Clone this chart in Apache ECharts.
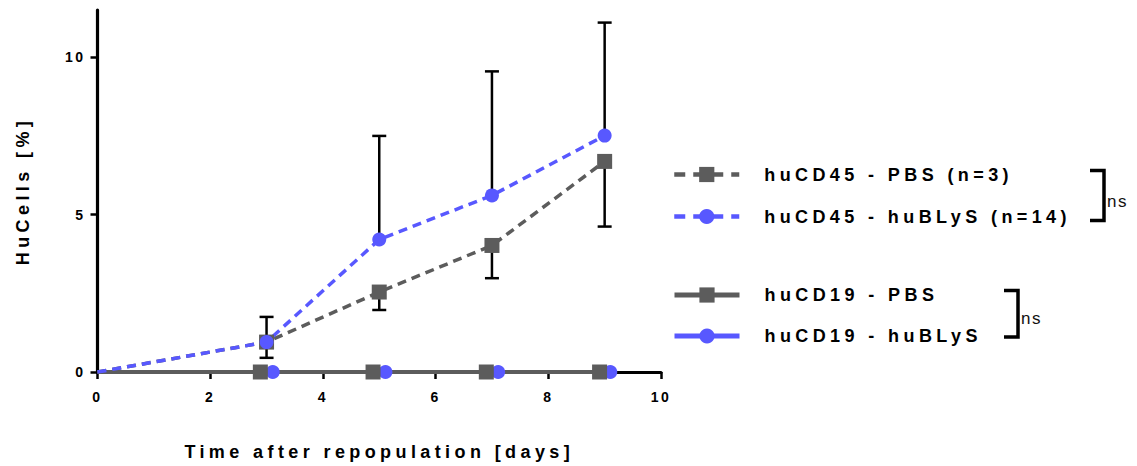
<!DOCTYPE html>
<html>
<head>
<meta charset="utf-8">
<script src="https://cdn.jsdelivr.net/npm/echarts@6/dist/echarts.min.js"></script>
<style>
  html, body { margin: 0; padding: 0; background: #fff; }
  #chart { width: 1137px; height: 466px; }
  #chart text[style*="18px"] { letter-spacing: 4.4px; }
  #chart text[style*="14px"] { letter-spacing: 2.5px; }
  #chart text[style*="17px"] { letter-spacing: 1.5px; }
</style>
</head>
<body>
<div id="chart"></div>
<script>
// ---- data ----
const days = [0, 3, 5, 7, 9];
const cd45Pbs = [0, 0.95, 2.54, 4.02, 6.69];
const cd45Blys = [0, 0.95, 4.21, 5.61, 7.51];
const errDays = [3, 5, 7, 9];
const cd45BlysErrTop = [1.75, 7.5, 9.55, 11.1];
const cd45PbsErrBottom = [0.45, 1.97, 2.98, 4.62];
const cd19PbsDays = [0, 2.89, 4.89, 6.9, 8.91];
const cd19Pbs = [0, 0, 0, 0, 0];
const cd19BlysDays = [0, 3.11, 5.11, 7.11, 9.1];
const cd19Blys = [0, 0, 0, 0, 0];
const xTicks = [0, 2, 4, 6, 8, 10];
const yTicks = [0, 5, 10];
const names = ['huCD45 - PBS (n=3)', 'huCD45 - huBLyS (n=14)', 'huCD19 - PBS', 'huCD19 - huBLyS'];

const GRAY = '#5c5c5c';
const BLUE = '#5858ff';
const FONT = '"Liberation Sans", Arial, Helvetica, sans-serif';

function pts(xs, ys) {
  return xs.map((x, i) => i === 0 ? { value: [x, ys[i]], symbol: 'none' } : [x, ys[i]]);
}

function errSeries(name, xs, base, ends) {
  return {
    type: 'custom',
    name: name,
    silent: true,
    data: xs.map((x, i) => [x, base[i], ends[i]]),
    encode: { x: 0, y: [1, 2] },
    renderItem: function (params, api) {
      const x = api.value(0), a = api.value(1), b = api.value(2);
      const p1 = api.coord([x, a]);
      const p2 = api.coord([x, b]);
      const st = { stroke: '#000', lineWidth: 2.5 };
      return {
        type: 'group',
        children: [
          { type: 'line', shape: { x1: p1[0], y1: p1[1], x2: p2[0], y2: p2[1] }, style: st },
          { type: 'line', shape: { x1: p2[0] - 7, y1: p2[1], x2: p2[0] + 7, y2: p2[1] }, style: st }
        ]
      };
    }
  };
}

const chart = echarts.init(document.getElementById('chart'), null, { renderer: 'svg' });

const legendText = { fontFamily: FONT, fontSize: 18, fontWeight: 'bold', color: '#000', padding: [0, 0, 0, 20] };

const option = {
  animation: false,
  backgroundColor: '#fff',
  grid: { left: 97.5, right: 476, top: 10, bottom: 94, containLabel: false },
  xAxis: {
    type: 'value', min: 0, max: 10, interval: 2,
    name: 'Time after repopulation [days]',
    nameLocation: 'middle', nameGap: 71,
    nameTextStyle: { fontFamily: FONT, fontSize: 18, fontWeight: 'bold', color: '#000' },
    axisLine: { show: true, onZero: false, lineStyle: { color: '#000', width: 3 } },
    axisTick: { show: true, length: 7, lineStyle: { color: '#000', width: 2.5 }, customValues: xTicks },
    axisLabel: { fontFamily: FONT, fontSize: 14, fontWeight: 'bold', color: '#000', margin: 18, customValues: xTicks },
    splitLine: { show: false }
  },
  yAxis: {
    type: 'value', min: 0, max: 11.5, interval: 5,
    name: 'HuCells [%]',
    nameLocation: 'middle', nameGap: 66, nameRotate: 90,
    nameTextStyle: { fontFamily: FONT, fontSize: 18, fontWeight: 'bold', color: '#000' },
    axisLine: { show: true, onZero: false, lineStyle: { color: '#000', width: 3.2 } },
    axisTick: { show: true, length: 7, lineStyle: { color: '#000', width: 2.5 }, customValues: yTicks },
    axisLabel: { fontFamily: FONT, fontSize: 14, fontWeight: 'bold', color: '#000', margin: 12, customValues: yTicks },
    splitLine: { show: false }
  },
  legend: [
    {
      data: [names[0], names[1]],
      orient: 'vertical', left: 672, top: 165.5, padding: 0,
      itemWidth: 65, itemHeight: 19, itemGap: 24,
      textStyle: legendText,
      lineStyle: { width: 4.5, type: [11, 8] },
      selectedMode: false
    },
    {
      data: [names[2], names[3]],
      orient: 'vertical', left: 672, top: 286, padding: 0,
      itemWidth: 65, itemHeight: 19, itemGap: 23,
      textStyle: legendText,
      lineStyle: { width: 5 },
      selectedMode: false
    }
  ],
  graphic: [
    { type: 'polyline', shape: { points: [[1090, 170.5], [1104, 170.5], [1104, 220.5], [1090, 220.5]] },
      style: { stroke: '#000', lineWidth: 3.5, fill: null } },
    { type: 'text', x: 1107, y: 201, style: { text: 'ns', font: 'normal 17px ' + FONT, fill: '#111', verticalAlign: 'middle' } },
    { type: 'polyline', shape: { points: [[1004, 290.5], [1018, 290.5], [1018, 337], [1004, 337]] },
      style: { stroke: '#000', lineWidth: 3.5, fill: null } },
    { type: 'text', x: 1021, y: 318, style: { text: 'ns', font: 'normal 17px ' + FONT, fill: '#111', verticalAlign: 'middle' } }
  ],
  series: [
    errSeries('errHigh', errDays, cd45Blys.slice(1), cd45BlysErrTop),
    errSeries('errLow', errDays, cd45Pbs.slice(1), cd45PbsErrBottom),
    {
      type: 'line', name: names[3], data: pts(cd19BlysDays, cd19Blys),
      symbol: 'circle', symbolSize: 14, color: BLUE,
      itemStyle: { color: BLUE },
      lineStyle: { color: BLUE, width: 4, type: 'solid' }
    },
    {
      type: 'line', name: names[2], data: pts(cd19PbsDays, cd19Pbs),
      symbol: 'rect', symbolSize: 15, color: GRAY,
      itemStyle: { color: GRAY },
      lineStyle: { color: GRAY, width: 4, type: 'solid' }
    },
    {
      type: 'line', name: names[0], data: pts(days, cd45Pbs),
      symbol: 'rect', symbolSize: 15, color: GRAY,
      itemStyle: { color: GRAY },
      lineStyle: { color: GRAY, width: 3.5, type: [9, 6] }
    },
    {
      type: 'line', name: names[1], data: pts(days, cd45Blys),
      symbol: 'circle', symbolSize: 14, color: BLUE,
      itemStyle: { color: BLUE },
      lineStyle: { color: BLUE, width: 3.5, type: [9, 6] }
    }
  ]
};
chart.setOption(option);
</script>
</body>
</html>
